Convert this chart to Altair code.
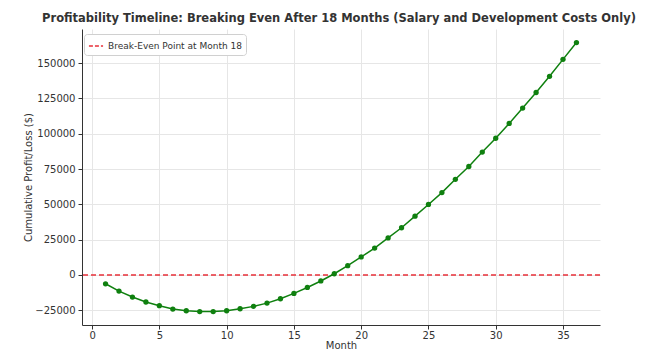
import altair as alt
import pandas as pd

months = list(range(1, 37))
profit = [-6300, -11500, -15700, -19200, -21800, -24200, -25400, -26000, -26000,
          -25400, -24000, -22300, -20000, -16900, -13100, -8900, -4300, 800,
          6500, 12700, 19000, 26200, 33400, 41600, 49900, 58300, 67700, 76800,
          87000, 96800, 107300, 118200, 129200, 140700, 152700, 164600]
break_even_label = ["Break-Even Point at Month 18"]
break_even_value = [0]
y_ticks = [-25000, 0, 25000, 50000, 75000, 100000, 125000, 150000]
x_ticks = [0, 5, 10, 15, 20, 25, 30, 35]

df = pd.DataFrame({"Month": months, "Profit": profit})
rule_df = pd.DataFrame({"label": break_even_label, "y": break_even_value})

FONT = "DejaVu Sans"
x_scale = alt.Scale(domain=[-0.75, 37.75], nice=False, zero=False)
y_scale = alt.Scale(domain=[-35500, 174200], nice=False, zero=False)

x_axis = alt.Axis(title="Month", values=x_ticks, format="d", grid=True,
                  gridColor="#e6e6e6", labelFont=FONT, labelFontSize=10,
                  labelColor="#333", titleFont=FONT, titleFontSize=10,
                  titleFontWeight="normal", titleColor="#333", domainColor="#333",
                  tickColor="#333", tickSize=4, labelPadding=1, titlePadding=0)
y_axis = alt.Axis(title="Cumulative Profit/Loss ($)", values=y_ticks, format="d",
                  grid=True, gridColor="#e6e6e6", labelFont=FONT, labelFontSize=10,
                  labelColor="#333", titleFont=FONT, titleFontSize=10,
                  titleFontWeight="normal", titleColor="#333", domainColor="#333",
                  tickColor="#333", tickSize=4, labelPadding=3, titlePadding=1)

line = alt.Chart(df).mark_line(color="#0f800f", strokeWidth=1.5).encode(
    x=alt.X("Month:Q", scale=x_scale, axis=x_axis),
    y=alt.Y("Profit:Q", scale=y_scale, axis=y_axis),
)
points = alt.Chart(df).mark_circle(color="#0f800f", opacity=1, size=28).encode(
    x=alt.X("Month:Q", scale=x_scale),
    y=alt.Y("Profit:Q", scale=y_scale),
)
rule = alt.Chart(rule_df).mark_rule(strokeDash=[5, 3], strokeWidth=1.5).encode(
    y=alt.Y("y:Q", scale=y_scale),
    color=alt.Color("label:N", scale=alt.Scale(range=["#e8303a"]),
                    legend=alt.Legend(title=None, orient="none", legendX=2, legendY=5,
                                      symbolType="stroke", symbolDash=[4, 2],
                                      symbolStrokeWidth=1.5, symbolSize=200,
                                      labelFont=FONT, labelFontSize=9,
                                      labelColor="#333", fillColor="white",
                                      strokeColor="#d0d0d0", padding=4,
                                      cornerRadius=3)),
)

chart = alt.layer(rule, line, points).properties(
    width=518, height=296,
    padding={"left": 15, "top": 4, "right": 0, "bottom": 0},
    title=alt.TitleParams("Profitability Timeline: Breaking Even After 18 Months (Salary and Development Costs Only)",
                          font=FONT, fontSize=11.5, fontWeight="bold", color="#333",
                          anchor="middle", offset=5, dx=-2),
).configure_view(stroke=None)

chart.save("out.html", embed_options={"renderer": "svg", "actions": False})
